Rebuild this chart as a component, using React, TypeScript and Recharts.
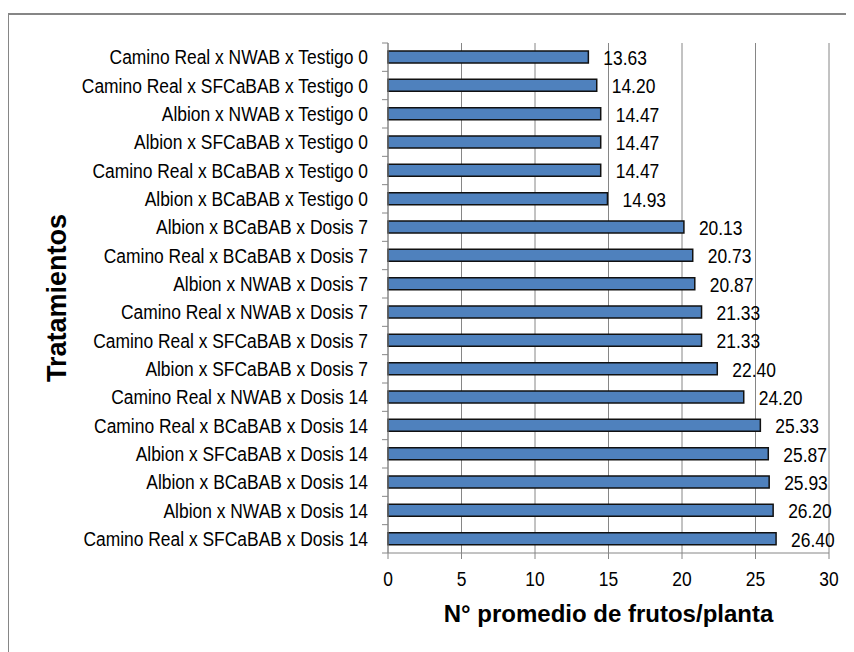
import { BarChart, Bar, XAxis, YAxis, CartesianGrid, LabelList } from "recharts";

const treatments = [
  "Camino Real x NWAB x Testigo 0",
  "Camino Real x SFCaBAB x Testigo 0",
  "Albion x NWAB x Testigo 0",
  "Albion x SFCaBAB x Testigo 0",
  "Camino Real x BCaBAB x Testigo 0",
  "Albion x BCaBAB x Testigo 0",
  "Albion x BCaBAB x Dosis 7",
  "Camino Real x BCaBAB x Dosis 7",
  "Albion x NWAB x Dosis 7",
  "Camino Real x NWAB x Dosis 7",
  "Camino Real x SFCaBAB x Dosis 7",
  "Albion x SFCaBAB x Dosis 7",
  "Camino Real x NWAB x Dosis 14",
  "Camino Real x BCaBAB x Dosis 14",
  "Albion x SFCaBAB x Dosis 14",
  "Albion x BCaBAB x Dosis 14",
  "Albion x NWAB x Dosis 14",
  "Camino Real x SFCaBAB x Dosis 14",
];

const frutos = [
  13.63, 14.2, 14.47, 14.47, 14.47, 14.93, 20.13, 20.73, 20.87, 21.33, 21.33,
  22.4, 24.2, 25.33, 25.87, 25.93, 26.2, 26.4,
];

const xTicks = [0, 5, 10, 15, 20, 25, 30];

const data = treatments.map((name, i) => ({ name, value: frutos[i] }));

const W = 854;
const H = 652;
const MARGIN = { top: 43, right: 25, bottom: 39, left: 0 };
const X_AXIS_H = 60;
const Y_AXIS_W = 388;
const BAND = (H - MARGIN.top - MARGIN.bottom - X_AXIS_H) / treatments.length;

const FONT = '"Liberation Sans", Arial, sans-serif';
const GREY = "#868686";

// excel used a narrow arial here, so squeeze the regular one
function NarrowText({ x, y, anchor, children }: any) {
  return (
    <text
      transform={`translate(${x},${y}) scale(0.83,1)`}
      textAnchor={anchor}
      dominantBaseline="central"
      fontSize={21}
      fontFamily={FONT}
      fill="#000"
    >
      {children}
    </text>
  );
}

function CategoryTick({ x, y, payload, index }: any) {
  const ax = x + 20;
  return (
    <g>
      <NarrowText x={x} y={y} anchor="end">
        {payload.value}
      </NarrowText>
      <line x1={ax - 6} x2={ax} y1={y - BAND / 2} y2={y - BAND / 2} stroke={GREY} />
      {index === treatments.length - 1 && (
        <line x1={ax - 6} x2={ax} y1={y + BAND / 2} y2={y + BAND / 2} stroke={GREY} />
      )}
    </g>
  );
}

function ValueTick({ x, y, payload }: any) {
  return (
    <NarrowText x={x} y={y + 20} anchor="middle">
      {payload.value}
    </NarrowText>
  );
}

function BarValue({ x, y, width, height, value }: any) {
  return (
    <NarrowText x={x + width + 15} y={y + height / 2 + 1} anchor="start">
      {Number(value).toFixed(2)}
    </NarrowText>
  );
}

export default function App() {
  return (
    <div
      style={{
        position: "relative",
        width: W,
        height: H,
        margin: "-8px 0 0 -8px",
        overflow: "hidden",
        background: "#fff",
      }}
    >
      <div
        style={{
          position: "absolute",
          left: 7,
          top: 13,
          width: 900,
          height: 700,
          border: `2px solid ${GREY}`,
        }}
      />
      <div style={{ position: "absolute", left: 0, top: 0 }}>
        <BarChart
          width={W}
          height={H}
          data={data}
          layout="vertical"
          margin={MARGIN}
          barCategoryGap={0}
        >
          <CartesianGrid horizontal={false} stroke={GREY} strokeDasharray="" />
          <XAxis
            type="number"
            domain={[0, 30]}
            ticks={xTicks}
            height={X_AXIS_H}
            stroke={GREY}
            tickSize={6}
            tickMargin={0}
            tick={<ValueTick />}
            label={{
              value: "N° promedio de frutos/planta",
              position: "insideBottom",
              offset: -9,
              fill: "#000",
              fontSize: 24,
              fontWeight: "bold",
              fontFamily: FONT,
            }}
          />
          <YAxis
            type="category"
            dataKey="name"
            width={Y_AXIS_W}
            stroke={GREY}
            tickLine={false}
            tickSize={6}
            tickMargin={14}
            interval={0}
            tick={<CategoryTick />}
            label={{
              value: "Tratamientos",
              angle: -90,
              position: "insideLeft",
              offset: 56,
              fill: "#000",
              fontSize: 27,
              fontWeight: "bold",
              fontFamily: FONT,
              style: { textAnchor: "middle" },
            }}
          />
          <Bar
            dataKey="value"
            fill="#4F81BD"
            stroke="#111"
            strokeWidth={1.5}
            barSize={12}
            isAnimationActive={false}
          >
            <LabelList dataKey="value" content={<BarValue />} />
          </Bar>
        </BarChart>
      </div>
    </div>
  );
}
